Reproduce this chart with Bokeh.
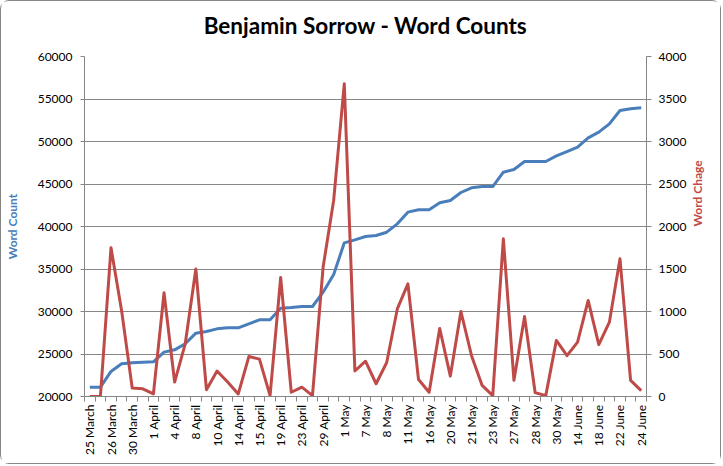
from math import pi
from bokeh.plotting import figure
from bokeh.models import (Range1d, LinearAxis, FixedTicker, SingleIntervalTicker,
                          ColumnDataSource)
from bokeh.embed import file_html
from bokeh.resources import INLINE

# ---------------- data ----------------
date_labels = ["25 March", "26 March", "30 March", "1 April", "4 April", "8 April",
               "10 April", "14 April", "15 April", "19 April", "23 April", "29 April",
               "1 May", "7 May", "8 May", "11 May", "16 May", "20 May", "21 May",
               "23 May", "27 May", "28 May", "30 May", "14 June", "18 June",
               "22 June", "24 June"]

word_count = [21100, 21100, 22950, 23850, 23970, 24040, 24080, 25220, 25490, 26200,
              27450, 27650, 27960, 28080, 28080, 28550, 29020, 29020, 30390, 30470,
              30590, 30590, 32270, 34350, 38080, 38430, 38820, 38940, 39330, 40310,
              41690, 41960, 41960, 42790, 43060, 44000, 44550, 44700, 44700, 46390,
              46710, 47650, 47650, 47650, 48300, 48820, 49330, 50430, 51100, 52080,
              53650, 53850, 53960]

word_change = [0, 0, 1750, 1010, 100, 90, 30, 1220, 170, 620,
               1500, 80, 300, 170, 30, 470, 440, 10, 1400, 50,
               110, 10, 1520, 2310, 3680, 300, 415, 150, 400, 1030,
               1325, 200, 50, 800, 240, 1000, 480, 130, 10, 1855,
               190, 940, 45, 10, 660, 480, 640, 1130, 610, 875,
               1620, 190, 70]

n = len(word_count)
idx = list(range(n))
src = ColumnDataSource(dict(x=idx, wc=word_count, ch=word_change))

BLUE = "#4A7EBB"
RED = "#BE4B48"
GRID = "#868686"
FONT = "Lato"

p = figure(width=721, height=464, output_backend="svg", toolbar_location=None,
           x_range=Range1d(-0.5, n - 0.5), y_range=Range1d(20000, 60000),
           min_border_left=82, min_border_right=76, min_border_top=55,
           min_border_bottom=69, background_fill_color="white",
           border_fill_color="white", outline_line_color=None)
p.styles = {"border": "1px solid #868686", "border-radius": "9px"}

p.title.text = "Benjamin Sorrow - Word Counts"
p.title.align = "center"
p.title.vertical_align = "bottom"
p.title.text_font = FONT
p.title.text_font_size = "22.5px"
p.title.text_font_style = "bold"
p.title.text_color = "black"
p.title.standoff = 2
p.title.padding = dict(left=0, right=0, top=0, bottom=17)

# grid
p.xgrid.grid_line_color = None
p.ygrid.grid_line_color = GRID
p.ygrid.grid_line_width = 1
p.ygrid.ticker = SingleIntervalTicker(interval=5000)

# left axis
la = p.yaxis[0]
la.ticker = SingleIntervalTicker(interval=5000)
la.axis_label = "Word Count"
la.axis_label_text_color = BLUE
la.axis_label_text_font = FONT
la.axis_label_text_font_size = "12px"
la.axis_label_text_font_style = "bold"
la.axis_label_standoff = 15
la.major_label_text_font = FONT
la.major_label_text_font_size = "12px"
la.major_label_text_color = "black"
la.major_label_standoff = 8
la.axis_line_color = GRID
la.major_tick_line_color = GRID
la.major_tick_out = 4
la.major_tick_in = 0
la.minor_tick_line_color = None

# right axis
p.extra_y_ranges = {"chg": Range1d(0, 4000)}
ra = LinearAxis(y_range_name="chg", ticker=SingleIntervalTicker(interval=500))
ra.axis_label = "Word Chage"
ra.axis_label_orientation = pi / 2
ra.axis_label_text_color = RED
ra.axis_label_text_font = FONT
ra.axis_label_text_font_size = "12px"
ra.axis_label_text_font_style = "bold"
ra.axis_label_standoff = 8
ra.major_label_text_font = FONT
ra.major_label_text_font_size = "12px"
ra.major_label_text_color = "black"
ra.major_label_standoff = 7
ra.axis_line_color = GRID
ra.major_tick_line_color = GRID
ra.major_tick_out = 5
ra.major_tick_in = 0
ra.minor_tick_line_color = None
p.add_layout(ra, "right")

# bottom axis
xa = p.xaxis[0]
label_pos = idx[::2]
xa.ticker = FixedTicker(ticks=label_pos, minor_ticks=[i - 0.5 for i in range(n + 1)])
xa.major_label_overrides = {i: lab for i, lab in zip(label_pos, date_labels)}
xa.major_label_orientation = pi / 2
xa.major_label_text_font = FONT
xa.major_label_text_font_size = "12px"
xa.major_label_text_color = "black"
xa.major_label_standoff = 3
xa.axis_line_color = GRID
xa.major_tick_line_color = None
xa.major_tick_out = 0
xa.major_tick_in = 0
xa.minor_tick_line_color = GRID
xa.minor_tick_out = 5
xa.minor_tick_in = 0

# series
p.line("x", "wc", source=src, line_color=BLUE, line_width=3, line_join="round")
p.line("x", "ch", source=src, y_range_name="chg", line_color=RED, line_width=3,
       line_join="round")

open("out.html", "w").write(file_html(p, INLINE))
